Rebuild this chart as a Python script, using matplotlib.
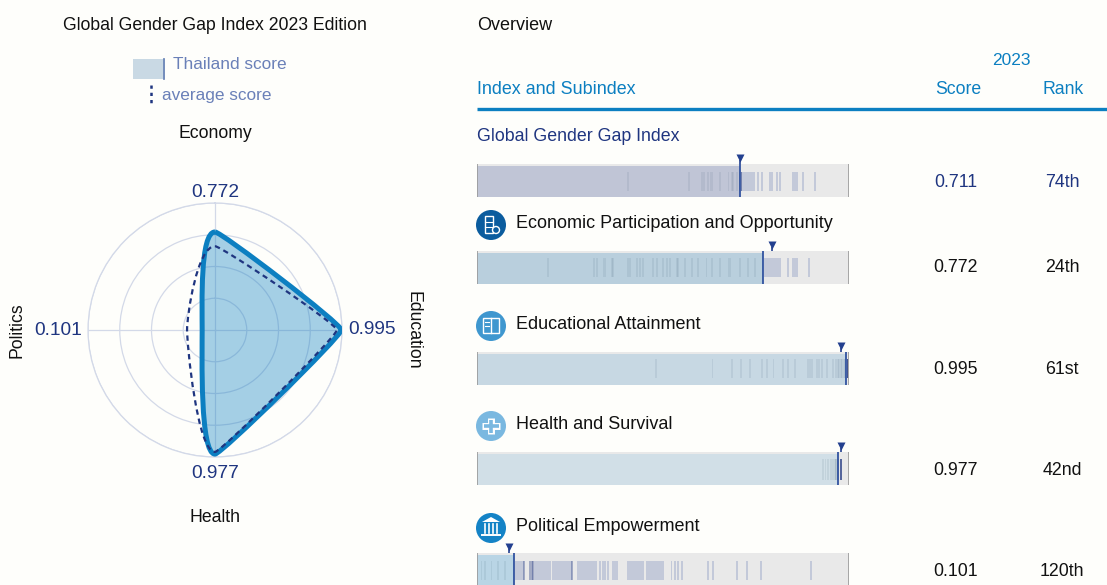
import numpy as np
import matplotlib.pyplot as plt
from matplotlib.path import Path
from matplotlib.patches import PathPatch, Circle, Rectangle

plt.rcParams['font.family'] = ['Liberation Sans', 'DejaVu Sans']

# radar data
axis_names = ["Economy", "Education", "Health", "Politics"]
thailand_scores = [0.772, 0.995, 0.977, 0.101]
average_scores = [0.66, 0.96, 0.96, 0.22]
rings = [0.25, 0.5, 0.75, 1.0]

# table data
row_names = ["Global Gender Gap Index", "Economic Participation and Opportunity",
             "Educational Attainment", "Health and Survival", "Political Empowerment"]
row_scores = [0.711, 0.772, 0.995, 0.977, 0.101]
row_ranks = ["74th", "24th", "61st", "42nd", "120th"]
# where the full height line and the small triangle really sit on each bar
line_positions = [0.707, 0.768, 0.992, 0.971, 0.0995]
triangle_positions = [0.707, 0.793, 0.978, 0.978, 0.086]

# other countries on each bar
marks_index = [0.405, 0.57, 0.604, 0.61, 0.62, 0.63, 0.633, 0.653, 0.676, 0.685, 0.689, 0.698,
               0.707, 0.714, 0.719, 0.724, 0.729, 0.734, 0.739, 0.744, 0.756, 0.765,
               0.788, 0.792, 0.806, 0.815, 0.85, 0.855, 0.86, 0.877, 0.909]
marks_economy = [0.19, 0.315, 0.322, 0.34, 0.344, 0.362, 0.366, 0.405, 0.411, 0.429, 0.438, 0.447,
                 0.474, 0.483, 0.5, 0.51, 0.519, 0.537, 0.541, 0.559, 0.577, 0.595, 0.617, 0.631,
                 0.653, 0.676, 0.68, 0.707, 0.729, 0.747, 0.775, 0.78, 0.785, 0.79, 0.795, 0.8,
                 0.805, 0.81, 0.815, 0.835, 0.85, 0.855, 0.86, 0.892]
marks_education = [0.481, 0.633, 0.685, 0.71, 0.734, 0.767, 0.779, 0.797, 0.823, 0.837, 0.855,
                   0.89, 0.895, 0.9, 0.913, 0.92, 0.927, 0.94, 0.958, 0.964, 0.97, 0.974, 0.978,
                   0.982, 0.986, 0.99]
marks_health = [0.93, 0.937, 0.944, 0.951, 0.958, 0.962, 0.966, 0.966, 0.97, 0.97]
marks_politics = [0.012, 0.021, 0.039, 0.057, 0.075, 0.105, 0.11, 0.115, 0.12, 0.125,
                  0.156, 0.161, 0.166, 0.171, 0.176, 0.181,
                  0.186, 0.191, 0.196, 0.205, 0.21, 0.215, 0.22, 0.225, 0.232, 0.237, 0.242,
                  0.247, 0.252, 0.27, 0.275, 0.28, 0.285, 0.29, 0.295, 0.3, 0.305,
                  0.31, 0.315, 0.32, 0.33, 0.338, 0.344, 0.353, 0.366, 0.372, 0.377, 0.407, 0.412,
                  0.417, 0.422, 0.427, 0.432, 0.437, 0.442, 0.447, 0.456, 0.461, 0.466, 0.471,
                  0.476, 0.481, 0.486, 0.491, 0.496, 0.501, 0.523, 0.532, 0.541, 0.55, 0.622,
                  0.635, 0.698, 0.725, 0.763, 0.897]
row_marks = [marks_index, marks_economy, marks_education, marks_health, marks_politics]
# spots where several countries pile up
dark_marks = [[0.711, 0.711], [], [0.996, 0.996, 0.996, 0.996], [0.978, 0.978, 0.978],
              [0.127, 0.143, 0.147, 0.151, 0.256]]

W, H = 1107, 585
BG = "#fefefb"
BLUE = "#0c7fc1"
NAVY = "#1f3580"
SOFT = "#6a80b8"
GRID = "#d3d9e8"

bar_tops = [164, 251, 352, 452, 553]
mark_spans = [(172, 191), (258, 277), (359, 378), (459, 480), (561, 580)]
fill_colors = ["#c0c5d6", "#b9cfdd", "#c7d8e3", "#d1dfe7", "#b9d5e5"]
value_ys = [181, 266, 368, 469, 570]
title_ys = [135, 222, 323, 423, 525]
icon_colors = ["#0b5c9e", "#3f97cf", "#7ab8e0", "#1483c6"]


def rounded_closed_path(thetas, radii, handles):
    # closed bezier through the data points, tangents square to each spoke
    # handles = (length towards the previous point, length towards the next) per point
    th = np.array(thetas)
    r = np.array(radii)
    pts = np.column_stack([r * np.sin(th), r * np.cos(th)])
    tang = np.column_stack([np.cos(th), -np.sin(th)])
    verts = [pts[0]]
    codes = [Path.MOVETO]
    n = len(pts)
    for i in range(n):
        j = (i + 1) % n
        verts += [pts[i] + handles[i][1] * tang[i], pts[j] - handles[j][0] * tang[j], pts[j]]
        codes += [Path.CURVE4] * 3
    verts = np.array(verts)
    # back to theta / r for the polar axes
    return Path(np.column_stack([np.arctan2(verts[:, 0], verts[:, 1]),
                                 np.hypot(verts[:, 0], verts[:, 1])]), codes)


fig = plt.figure(figsize=(W / 100, H / 100), dpi=100, facecolor=BG)

# radar
radar = fig.add_axes([88 / W, (H - 457) / H, 254 / W, 254 / H], projection="polar")
radar.set_facecolor("none")
radar.set_theta_zero_location("N")
radar.set_theta_direction(-1)
radar.set_ylim(0, 1)
angles = np.deg2rad([0, 90, 180, 270])
radar.set_xticks(angles)
radar.set_yticks(rings)
radar.set_xticklabels([])
radar.set_yticklabels([])
radar.tick_params(length=0)
radar.grid(color=GRID, lw=0.9)
radar.spines["polar"].set_color(GRID)
radar.spines["polar"].set_linewidth(0.9)
radar.set_axisbelow(True)

shape = rounded_closed_path(angles, thailand_scores,
                            [(0.12, 0.05), (0.05, 0.05), (0.05, 0.12), (0.2, 0.2)])
radar.add_patch(PathPatch(shape, fc=BLUE, ec="none", alpha=0.37, zorder=1))
radar.add_patch(PathPatch(shape, fc="none", ec=BLUE, lw=3.6, joinstyle="round", zorder=3))
avg_shape = rounded_closed_path(angles, average_scores,
                                [(0.14, 0.05), (0.05, 0.05), (0.05, 0.14), (0.12, 0.12)])
radar.add_patch(PathPatch(avg_shape, fc="none", ec=NAVY, lw=1.6, linestyle=(0, (2.4, 1.8)), zorder=4))

# overlay in pixels for the texts and icons
ov = fig.add_axes([0, 0, 1, 1], zorder=5)
ov.set_xlim(0, W)
ov.set_ylim(H, 0)
ov.axis("off")


def label(x, y, s, color="#111111", ha="center", size=12.7, rotation=0):
    if rotation == 0:
        y += 1.5
    ov.text(x, y, s, color=color, ha=ha, va="center", fontsize=size, rotation=rotation)


label(215, 24, "Global Gender Gap Index 2023 Edition")
ov.add_patch(Rectangle((133, 59), 30, 20, fc="#c9d9e4", ec="none"))
ov.plot([164, 164], [59, 79], color="#5a78b0", lw=1.2)
label(173, 63, "Thailand score", color=SOFT, ha="left", size=12.4)
ov.plot([151, 151], [85, 103], color=NAVY, lw=1.8, linestyle=(0, (1.3, 1.6)))
label(162, 94, "average score", color=SOFT, ha="left", size=12.4)

label(215, 132, axis_names[0])
label(215, 191, f"{thailand_scores[0]:.3f}", color=NAVY, size=13.8)
label(413, 330, axis_names[1], rotation=270)
label(372, 328, f"{thailand_scores[1]:.3f}", color=NAVY, size=13.8)
label(215, 472, f"{thailand_scores[2]:.3f}", color=NAVY, size=13.8)
label(215, 516, axis_names[2])
label(17, 330, axis_names[3], rotation=90)
label(58, 329, f"{thailand_scores[3]:.3f}", color=NAVY, size=13.8)

# table header
label(477, 24, "Overview", ha="left", size=13)
label(1011, 59, "2023", color=BLUE, size=12.5)
label(477, 88, "Index and Subindex", color=BLUE, ha="left", size=12.9)
label(958, 88, "Score", color=BLUE)
label(1063, 88, "Rank", color=BLUE)
ov.plot([477, W], [109, 109], color=BLUE, lw=2.4, solid_capstyle="butt")

# bars, one small axes each so the score scale runs 0 to 1
for i, name in enumerate(row_names):
    top = bar_tops[i]
    pos = line_positions[i]
    ax = fig.add_axes([477 / W, (H - top - 33) / H, 372 / W, 33 / H], zorder=2)
    ax.set_xlim(0, 1)
    ax.set_ylim(0, 33)
    ax.set_facecolor("#e9e9e9")
    ax.set_xticks([])
    ax.set_yticks([])
    for sp in ax.spines.values():
        sp.set_visible(False)
    ax.bar(pos / 2, 31, width=pos, bottom=0, color=fill_colors[i])
    m0, m1 = mark_spans[i]
    base = top + 33 - m1
    marks = np.array(row_marks[i])
    ax.bar(marks[marks > pos], m1 - m0, width=0.005, bottom=base, color="#2e4a9a", alpha=0.2, lw=0)
    ax.bar(marks[marks <= pos], m1 - m0, width=0.005, bottom=base, color="#33506a", alpha=0.09, lw=0)
    if dark_marks[i]:
        ax.bar(dark_marks[i], m1 - m0, width=0.005, bottom=base, color=NAVY, alpha=0.35, lw=0)
    ax.vlines([0, 1], 0, 33, color="#9a9a9a", lw=1.2)
    ax.vlines(pos, 0, 33, color="#23479a", lw=1.2)
    ax.plot(triangle_positions[i], 39, marker="v", ms=6, color="#23408f", clip_on=False, mec="none")
    ax.vlines(triangle_positions[i], 33, 37, color="#23408f", lw=1.2, clip_on=False)

    if i == 0:
        label(477, title_ys[i], name, color=NAVY, ha="left", size=12.8)
    else:
        label(516, title_ys[i], name, ha="left", size=13)
        ov.add_patch(Circle((491, title_ys[i] + 3), 15, fc=icon_colors[i - 1], ec="none"))
    c = NAVY if i == 0 else "#111111"
    label(956, value_ys[i], f"{row_scores[i]:.3f}", color=c, size=12.8)
    label(1062, value_ys[i], row_ranks[i], color=c, size=12.8)

# icon glyphs
ic = "white"
ov.add_patch(Rectangle((485, 216), 8, 17, fc="none", ec=ic, lw=1))
ov.plot([485, 493], [222, 222], color=ic, lw=0.8)
ov.plot([485, 493], [227, 227], color=ic, lw=0.8)
ov.add_patch(Circle((496, 230), 3.5, fc=icon_colors[0], ec=ic, lw=1))
ov.add_patch(Rectangle((483, 318), 16, 15, fc="none", ec=ic, lw=1))
ov.plot([491, 491], [318, 333], color=ic, lw=1)
ov.plot([485, 489], [322, 322], color=ic, lw=0.8)
ov.plot([485, 489], [326, 326], color=ic, lw=0.8)
ov.plot([491, 491], [418, 434], color=ic, lw=5, solid_capstyle="butt")
ov.plot([482, 500], [426, 426], color=ic, lw=5, solid_capstyle="butt")
ov.plot([491, 491], [419.5, 432.5], color=icon_colors[2], lw=2.6, solid_capstyle="butt")
ov.plot([483.5, 498.5], [426, 426], color=icon_colors[2], lw=2.6, solid_capstyle="butt")
ov.fill([482, 491, 500], [522, 517, 522], color=ic, lw=0)
for x in [485, 489, 493, 497]:
    ov.plot([x, x], [524, 533], color=ic, lw=1.2)
ov.plot([482, 500], [535, 535], color=ic, lw=1.4)

fig.savefig("out.png", dpi=100, facecolor=BG)
